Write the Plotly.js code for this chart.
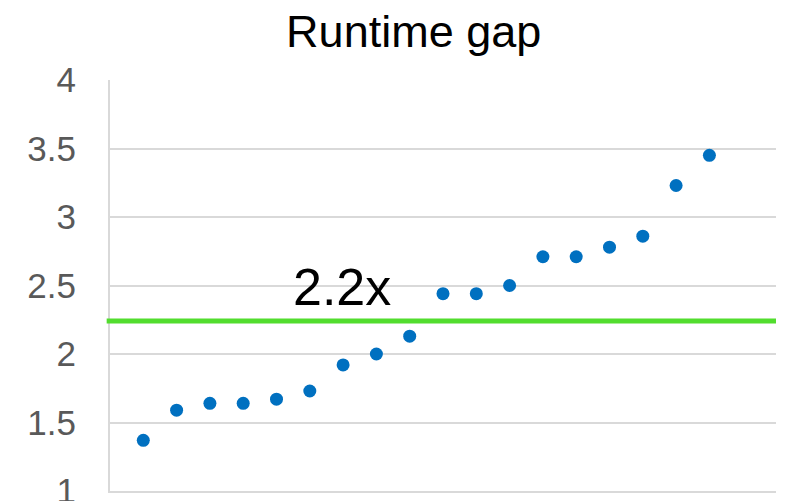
<!DOCTYPE html>
<html>
<head>
<meta charset="utf-8">
<script src="https://cdn.plot.ly/plotly-3.0.1.min.js"></script>
<style>
  html, body { margin: 0; padding: 0; background: #fff; }
  #chart { width: 785px; height: 501px; }
</style>
</head>
<body>
<div id="chart"></div>
<script>
// Per-benchmark runtime ratios, sorted ascending
const runIndex = [1, 2, 3, 4, 5, 6, 7, 8, 9, 10, 11, 12, 13, 14, 15, 16, 17, 18];
const runtimeGap = [1.37, 1.59, 1.64, 1.64, 1.67, 1.73, 1.92, 2.00, 2.13,
                    2.44, 2.44, 2.50, 2.71, 2.71, 2.78, 2.86, 3.23, 3.45];
// Average gap shown as a horizontal reference line
const averageGap = 2.24;
const averageLabel = "2.2x";
const yTicks = [1, 1.5, 2, 2.5, 3, 3.5, 4];
const yTickText = ["1", "1.5", "2", "2.5", "3", "3.5", "4"];

const FONT = "Liberation Sans, Arial, sans-serif";

const trace = {
  type: "scatter",
  mode: "markers",
  x: runIndex,
  y: runtimeGap,
  marker: { color: "#0070C0", size: 13 },
  hoverinfo: "y"
};

const layout = {
  width: 785,
  height: 501,
  margin: { l: 110, r: 9, t: 80, b: 10 },
  paper_bgcolor: "#ffffff",
  plot_bgcolor: "#ffffff",
  showlegend: false,
  font: { family: FONT, color: "#595959" },
  title: {
    text: "Runtime gap",
    font: { family: FONT, size: 45, color: "#000000" },
    x: 0.527, xref: "container", xanchor: "center",
    y: 0.938, yref: "container", yanchor: "middle"
  },
  xaxis: {
    range: [0, 20],
    showgrid: false,
    zeroline: false,
    showticklabels: false,
    ticks: "",
    showline: true,
    linecolor: "#d9d9d9",
    linewidth: 2
  },
  yaxis: {
    range: [1, 4],
    tickvals: yTicks,
    ticktext: yTickText,
    tickfont: { family: FONT, size: 35, color: "#595959" },
    ticks: "",
    ticklabelstandoff: 25,
    ticklabeloverflow: "allow",
    showgrid: true,
    gridcolor: "#d9d9d9",
    gridwidth: 2,
    zeroline: false,
    showline: true,
    linecolor: "#d9d9d9",
    linewidth: 2
  },
  shapes: [{
    type: "line",
    xref: "paper", yref: "y",
    x0: -0.005, x1: 1,
    y0: averageGap, y1: averageGap,
    line: { color: "#52DD2E", width: 5 },
    layer: "above"
  }],
  annotations: [{
    text: averageLabel,
    xref: "x", yref: "y",
    x: 6.96, y: 2.49,
    xanchor: "center", yanchor: "middle",
    showarrow: false,
    font: { family: FONT, size: 52, color: "#000000" }
  }]
};

Plotly.newPlot("chart", [trace], layout, { displayModeBar: false, staticPlot: true });
</script>
</body>
</html>
